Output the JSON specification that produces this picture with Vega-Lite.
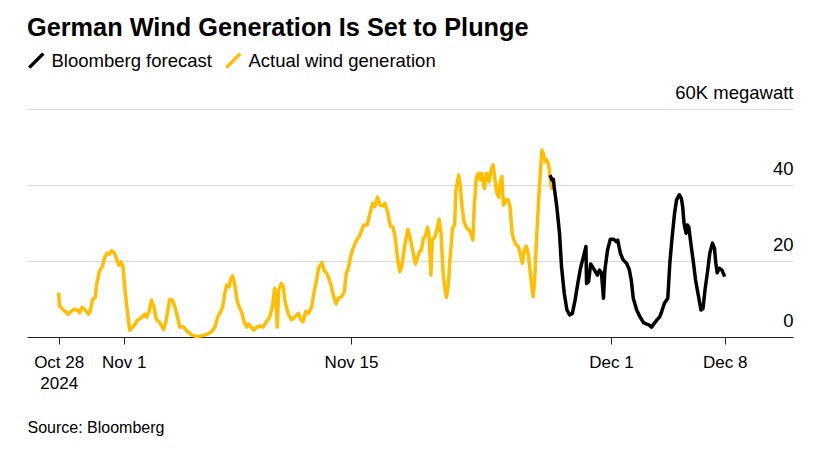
{
  "$schema": "https://vega.github.io/schema/vega-lite/v6.json",
  "width": 766,
  "height": 228,
  "autosize": {"type": "none"},
  "padding": {"left": 27, "top": 109, "right": 44, "bottom": 121},
  "background": "#ffffff",
  "config": {
    "font": "Liberation Sans",
    "view": {"stroke": null}
  },
  "title": {
    "text": "German Wind Generation Is Set to Plunge",
    "anchor": "start",
    "frame": "group",
    "fontSize": 25.3,
    "fontWeight": "bold",
    "color": "#000000",
    "offset": 10
  },
  "datasets": {
    "actual": [
      {"t":"2024-10-28T00:00","v":11.7},{"t":"2024-10-28T01:00","v":8.2},{"t":"2024-10-28T06:00","v":7.3},{"t":"2024-10-28T14:00","v":6.0},{"t":"2024-10-28T22:00","v":7.3},
      {"t":"2024-10-29T03:00","v":7.1},{"t":"2024-10-29T07:00","v":6.4},{"t":"2024-10-29T10:00","v":7.8},{"t":"2024-10-29T14:00","v":7.3},{"t":"2024-10-29T20:00","v":6.0},{"t":"2024-10-29T23:00","v":7.1},
      {"t":"2024-10-30T02:00","v":9.9},{"t":"2024-10-30T06:00","v":10.4},{"t":"2024-10-30T08:00","v":13.7},{"t":"2024-10-30T12:00","v":17.2},{"t":"2024-10-30T17:00","v":18.7},{"t":"2024-10-30T19:00","v":20.4},{"t":"2024-10-30T23:00","v":22.0},
      {"t":"2024-10-31T03:00","v":21.8},{"t":"2024-10-31T06:00","v":22.7},{"t":"2024-10-31T10:00","v":22.2},{"t":"2024-10-31T14:00","v":20.4},{"t":"2024-10-31T17:00","v":18.9},{"t":"2024-10-31T20:00","v":19.8},{"t":"2024-10-31T23:00","v":18.5},
      {"t":"2024-11-01T02:00","v":12.4},{"t":"2024-11-01T05:00","v":7.5},{"t":"2024-11-01T09:00","v":1.8},{"t":"2024-11-01T14:00","v":2.7},{"t":"2024-11-01T20:00","v":4.3},
      {"t":"2024-11-02T03:00","v":5.2},{"t":"2024-11-02T07:00","v":6.0},{"t":"2024-11-02T10:00","v":5.2},{"t":"2024-11-02T14:00","v":6.9},{"t":"2024-11-02T17:00","v":9.7},{"t":"2024-11-02T21:00","v":7.8},
      {"t":"2024-11-03T00:00","v":4.7},{"t":"2024-11-03T06:00","v":3.6},{"t":"2024-11-03T11:00","v":2.0},{"t":"2024-11-03T15:00","v":4.5},{"t":"2024-11-03T20:00","v":9.9},
      {"t":"2024-11-04T00:00","v":9.7},{"t":"2024-11-04T04:00","v":7.8},{"t":"2024-11-04T08:00","v":4.9},{"t":"2024-11-04T11:00","v":2.6},{"t":"2024-11-04T16:00","v":2.7},{"t":"2024-11-04T21:00","v":1.7},
      {"t":"2024-11-05T05:00","v":0.5},{"t":"2024-11-05T12:00","v":0.1},{"t":"2024-11-05T19:00","v":0.3},
      {"t":"2024-11-06T03:00","v":0.7},{"t":"2024-11-06T10:00","v":1.4},{"t":"2024-11-06T15:00","v":2.7},{"t":"2024-11-06T19:00","v":5.3},{"t":"2024-11-06T22:00","v":6.2},
      {"t":"2024-11-07T02:00","v":7.8},{"t":"2024-11-07T06:00","v":11.9},{"t":"2024-11-07T08:00","v":13.7},{"t":"2024-11-07T12:00","v":13.2},{"t":"2024-11-07T14:00","v":15.2},{"t":"2024-11-07T17:00","v":16.1},{"t":"2024-11-07T20:00","v":13.9},{"t":"2024-11-07T23:00","v":10.2},
      {"t":"2024-11-08T02:00","v":8.2},{"t":"2024-11-08T06:00","v":6.7},{"t":"2024-11-08T10:00","v":4.0},{"t":"2024-11-08T14:00","v":2.6},{"t":"2024-11-08T17:00","v":3.4},{"t":"2024-11-08T20:00","v":2.7},
      {"t":"2024-11-09T00:00","v":1.8},{"t":"2024-11-09T05:00","v":2.6},{"t":"2024-11-09T09:00","v":2.9},{"t":"2024-11-09T14:00","v":2.6},{"t":"2024-11-09T19:00","v":4.0},
      {"t":"2024-11-10T00:00","v":5.3},{"t":"2024-11-10T04:00","v":8.2},{"t":"2024-11-10T07:00","v":12.8},{"t":"2024-11-10T09:00","v":10.6},{"t":"2024-11-10T11:00","v":2.6},{"t":"2024-11-10T13:00","v":12.4},{"t":"2024-11-10T17:00","v":14.1},{"t":"2024-11-10T20:00","v":13.2},{"t":"2024-11-10T22:00","v":9.7},
      {"t":"2024-11-11T03:00","v":6.2},{"t":"2024-11-11T08:00","v":4.5},{"t":"2024-11-11T13:00","v":5.3},{"t":"2024-11-11T18:00","v":6.2},{"t":"2024-11-11T22:00","v":4.5},
      {"t":"2024-11-12T01:00","v":4.0},{"t":"2024-11-12T05:00","v":6.7},{"t":"2024-11-12T09:00","v":6.2},{"t":"2024-11-12T14:00","v":8.0},{"t":"2024-11-12T17:00","v":11.5},{"t":"2024-11-12T21:00","v":15.0},
      {"t":"2024-11-13T00:00","v":18.1},{"t":"2024-11-13T05:00","v":19.6},{"t":"2024-11-13T08:00","v":17.6},{"t":"2024-11-13T12:00","v":16.8},{"t":"2024-11-13T16:00","v":15.0},{"t":"2024-11-13T19:00","v":13.2},{"t":"2024-11-13T23:00","v":10.2},
      {"t":"2024-11-14T02:00","v":8.7},{"t":"2024-11-14T05:00","v":10.2},{"t":"2024-11-14T10:00","v":10.6},{"t":"2024-11-14T14:00","v":11.9},{"t":"2024-11-14T17:00","v":16.8},{"t":"2024-11-14T20:00","v":18.1},
      {"t":"2024-11-15T00:00","v":21.6},{"t":"2024-11-15T03:00","v":23.3},{"t":"2024-11-15T08:00","v":25.5},{"t":"2024-11-15T12:00","v":26.4},{"t":"2024-11-15T16:00","v":28.2},{"t":"2024-11-15T19:00","v":29.5},
      {"t":"2024-11-16T00:00","v":29.5},{"t":"2024-11-16T04:00","v":32.6},{"t":"2024-11-16T08:00","v":35.2},{"t":"2024-11-16T11:00","v":34.3},{"t":"2024-11-16T15:00","v":36.8},{"t":"2024-11-16T19:00","v":34.7},{"t":"2024-11-16T23:00","v":34.5},
      {"t":"2024-11-17T02:00","v":35.2},{"t":"2024-11-17T06:00","v":33.0},{"t":"2024-11-17T10:00","v":29.2},{"t":"2024-11-17T14:00","v":28.9},{"t":"2024-11-17T17:00","v":26.4},{"t":"2024-11-17T21:00","v":20.3},
      {"t":"2024-11-18T00:00","v":17.2},{"t":"2024-11-18T03:00","v":18.5},{"t":"2024-11-18T07:00","v":23.8},{"t":"2024-11-18T12:00","v":28.3},{"t":"2024-11-18T15:00","v":26.4},{"t":"2024-11-18T19:00","v":22.9},{"t":"2024-11-18T23:00","v":19.2},
      {"t":"2024-11-19T02:00","v":20.7},{"t":"2024-11-19T05:00","v":22.4},{"t":"2024-11-19T08:00","v":22.9},{"t":"2024-11-19T11:00","v":26.0},{"t":"2024-11-19T14:00","v":26.6},{"t":"2024-11-19T17:00","v":28.9},{"t":"2024-11-19T19:00","v":27.1},{"t":"2024-11-19T22:00","v":16.3},
      {"t":"2024-11-20T00:00","v":25.5},{"t":"2024-11-20T04:00","v":26.4},{"t":"2024-11-20T07:00","v":28.2},{"t":"2024-11-20T10:00","v":31.0},{"t":"2024-11-20T13:00","v":27.3},{"t":"2024-11-20T16:00","v":16.8},{"t":"2024-11-20T19:00","v":12.4},{"t":"2024-11-20T21:00","v":10.4},
      {"t":"2024-11-21T00:00","v":14.1},{"t":"2024-11-21T02:00","v":20.3},{"t":"2024-11-21T06:00","v":28.6},{"t":"2024-11-21T09:00","v":29.5},{"t":"2024-11-21T11:00","v":38.7},{"t":"2024-11-21T15:00","v":42.6},{"t":"2024-11-21T17:00","v":40.4},{"t":"2024-11-21T20:00","v":34.3},{"t":"2024-11-21T23:00","v":30.3},
      {"t":"2024-11-22T03:00","v":28.6},{"t":"2024-11-22T06:00","v":28.3},{"t":"2024-11-22T09:00","v":27.3},{"t":"2024-11-22T12:00","v":25.5},{"t":"2024-11-22T14:00","v":34.3},{"t":"2024-11-22T17:00","v":41.8},{"t":"2024-11-22T20:00","v":43.1},{"t":"2024-11-22T23:00","v":41.3},
      {"t":"2024-11-23T01:00","v":43.1},{"t":"2024-11-23T05:00","v":39.1},{"t":"2024-11-23T08:00","v":43.1},{"t":"2024-11-23T10:00","v":41.5},{"t":"2024-11-23T12:00","v":40.9},{"t":"2024-11-23T15:00","v":43.9},{"t":"2024-11-23T18:00","v":45.3},{"t":"2024-11-23T21:00","v":40.9},{"t":"2024-11-23T23:00","v":38.2},
      {"t":"2024-11-24T02:00","v":36.8},{"t":"2024-11-24T04:00","v":40.4},{"t":"2024-11-24T07:00","v":42.2},{"t":"2024-11-24T09:00","v":34.7},{"t":"2024-11-24T13:00","v":36.2},{"t":"2024-11-24T16:00","v":36.1},{"t":"2024-11-24T19:00","v":34.3},{"t":"2024-11-24T22:00","v":27.3},
      {"t":"2024-11-25T01:00","v":25.3},{"t":"2024-11-25T04:00","v":24.2},{"t":"2024-11-25T07:00","v":23.9},{"t":"2024-11-25T10:00","v":22.0},{"t":"2024-11-25T13:00","v":19.4},{"t":"2024-11-25T16:00","v":22.9},{"t":"2024-11-25T19:00","v":23.9},{"t":"2024-11-25T22:00","v":21.6},
      {"t":"2024-11-26T02:00","v":15.0},{"t":"2024-11-26T05:00","v":10.6},{"t":"2024-11-26T07:00","v":14.1},{"t":"2024-11-26T10:00","v":25.5},{"t":"2024-11-26T14:00","v":38.7},{"t":"2024-11-26T18:00","v":49.2},{"t":"2024-11-26T20:00","v":48.3},{"t":"2024-11-26T23:00","v":46.1},
      {"t":"2024-11-27T01:00","v":46.6},{"t":"2024-11-27T04:00","v":45.3},{"t":"2024-11-27T06:00","v":42.2},{"t":"2024-11-27T09:00","v":38.7}
    ],
    "forecast": [
      {"t":"2024-11-27T06:00","v":42.6},{"t":"2024-11-27T09:00","v":41.3},{"t":"2024-11-27T11:00","v":41.5},{"t":"2024-11-27T12:00","v":39.6},{"t":"2024-11-27T16:00","v":34.3},{"t":"2024-11-27T20:00","v":27.3},{"t":"2024-11-27T23:00","v":18.5},
      {"t":"2024-11-28T03:00","v":11.5},{"t":"2024-11-28T07:00","v":7.1},{"t":"2024-11-28T11:00","v":5.8},{"t":"2024-11-28T15:00","v":6.2},{"t":"2024-11-28T19:00","v":9.7},{"t":"2024-11-28T23:00","v":14.1},
      {"t":"2024-11-29T03:00","v":18.1},{"t":"2024-11-29T08:00","v":21.6},{"t":"2024-11-29T11:00","v":23.8},{"t":"2024-11-29T12:00","v":14.1},{"t":"2024-11-29T15:00","v":14.6},{"t":"2024-11-29T18:00","v":19.2},{"t":"2024-11-29T22:00","v":18.1},
      {"t":"2024-11-30T01:00","v":17.2},{"t":"2024-11-30T04:00","v":16.3},{"t":"2024-11-30T07:00","v":17.6},{"t":"2024-11-30T10:00","v":16.9},{"t":"2024-11-30T13:00","v":10.2},{"t":"2024-11-30T15:00","v":17.6},{"t":"2024-11-30T19:00","v":22.9},{"t":"2024-11-30T23:00","v":25.7},
      {"t":"2024-12-01T04:00","v":25.7},{"t":"2024-12-01T08:00","v":25.1},{"t":"2024-12-01T10:00","v":25.5},{"t":"2024-12-01T14:00","v":22.0},{"t":"2024-12-01T18:00","v":20.3},{"t":"2024-12-01T23:00","v":19.4},
      {"t":"2024-12-02T03:00","v":17.8},{"t":"2024-12-02T06:00","v":15.0},{"t":"2024-12-02T09:00","v":10.2},{"t":"2024-12-02T14:00","v":7.1},{"t":"2024-12-02T19:00","v":5.3},
      {"t":"2024-12-03T00:00","v":3.8},{"t":"2024-12-03T05:00","v":3.4},{"t":"2024-12-03T08:00","v":3.2},{"t":"2024-12-03T12:00","v":2.6},{"t":"2024-12-03T16:00","v":3.6},{"t":"2024-12-03T20:00","v":4.5},
      {"t":"2024-12-04T00:00","v":5.3},{"t":"2024-12-04T03:00","v":6.7},{"t":"2024-12-04T07:00","v":8.9},{"t":"2024-12-04T12:00","v":10.2},{"t":"2024-12-04T15:00","v":19.4},{"t":"2024-12-04T18:00","v":25.5},{"t":"2024-12-04T22:00","v":32.6},
      {"t":"2024-12-05T01:00","v":36.1},{"t":"2024-12-05T05:00","v":37.4},{"t":"2024-12-05T08:00","v":36.5},{"t":"2024-12-05T10:00","v":34.3},{"t":"2024-12-05T12:00","v":29.9},{"t":"2024-12-05T15:00","v":27.3},{"t":"2024-12-05T17:00","v":29.5},{"t":"2024-12-05T19:00","v":29.0},{"t":"2024-12-05T22:00","v":24.7},
      {"t":"2024-12-06T02:00","v":19.4},{"t":"2024-12-06T05:00","v":15.0},{"t":"2024-12-06T09:00","v":11.1},{"t":"2024-12-06T13:00","v":7.1},{"t":"2024-12-06T16:00","v":7.5},{"t":"2024-12-06T19:00","v":12.4},{"t":"2024-12-06T23:00","v":17.6},
      {"t":"2024-12-07T02:00","v":22.0},{"t":"2024-12-07T06:00","v":24.7},{"t":"2024-12-07T09:00","v":23.3},{"t":"2024-12-07T11:00","v":19.4},{"t":"2024-12-07T13:00","v":16.9},{"t":"2024-12-07T16:00","v":18.1},{"t":"2024-12-07T20:00","v":17.6},
      {"t":"2024-12-08T00:00","v":15.9}
    ]
  },
  "encoding": {
    "x": {
      "field": "t",
      "type": "temporal",
      "scale": {
        "domain": [
          {"year": 2024, "month": 10, "date": 26, "hours": 1, "minutes": 12},
          {"year": 2024, "month": 12, "date": 12, "hours": 5, "minutes": 0}
        ]
      },
      "axis": {
        "values": [
          {"year": 2024, "month": 10, "date": 28},
          {"year": 2024, "month": 11, "date": 1},
          {"year": 2024, "month": 11, "date": 15},
          {"year": 2024, "month": 12, "date": 1},
          {"year": 2024, "month": 12, "date": 8}
        ],
        "labelExpr": "date(datum.value) == 28 ? ['Oct 28', '2024'] : timeFormat(datum.value, '%b %-d')",
        "grid": false,
        "domainColor": "#222222",
        "domainWidth": 1,
        "tickColor": "#222222",
        "tickSize": 7,
        "labelFontSize": 17,
        "labelColor": "#000000",
        "labelPadding": 10,
        "labelLineHeight": 21,
        "labelFlush": false,
        "labelOverlap": false,
        "title": "Source: Bloomberg",
        "titleX": 0,
        "titleY": 95,
        "titleAlign": "left",
        "titleBaseline": "alphabetic",
        "titleFontSize": 16,
        "titleFontWeight": "normal",
        "titleColor": "#000000"
      }
    },
    "y": {
      "field": "v",
      "type": "quantitative",
      "scale": {"domain": [0, 60], "nice": false, "zero": true},
      "axis": {
        "orient": "right",
        "values": [0, 20, 40, 60],
        "grid": true,
        "gridColor": "#d9d9d9",
        "gridWidth": 1,
        "domain": false,
        "ticks": false,
        "labelAlign": "right",
        "labelPadding": 0,
        "labelBaseline": "alphabetic",
        "labelOffset": -11,
        "labelFontSize": 18.5,
        "labelColor": "#000000",
        "labelOverlap": false,
        "labelFlush": false,
        "labelBound": false,
        "labelExpr": "datum.value == 60 ? '60K megawatt' : datum.label",
        "title": null
      }
    }
  },
  "layer": [
    {
      "data": {"name": "actual"},
      "mark": {"type": "line", "strokeWidth": 3.5, "strokeJoin": "round"},
      "encoding": {
        "color": {
          "datum": "Actual wind generation",
          "type": "nominal",
          "scale": {
            "domain": ["Bloomberg forecast", "Actual wind generation"],
            "range": ["#000000", "#FFBE00"]
          },
          "legend": {
            "orient": "none",
            "legendX": 0,
            "legendY": -58,
            "direction": "horizontal",
            "title": null,
            "padding": 0,
            "symbolType": "M-1,1L1,-1",
            "symbolSize": 196,
            "symbolStrokeWidth": 3.5,
            "labelFontSize": 18.5,
            "labelColor": "#000000",
            "labelLimit": 0,
            "labelOffset": 6,
            "columnPadding": 7
          }
        }
      }
    },
    {
      "data": {"name": "forecast"},
      "mark": {"type": "line", "strokeWidth": 3.5, "strokeJoin": "round"},
      "encoding": {
        "color": {"datum": "Bloomberg forecast", "type": "nominal"}
      }
    }
  ]
}
